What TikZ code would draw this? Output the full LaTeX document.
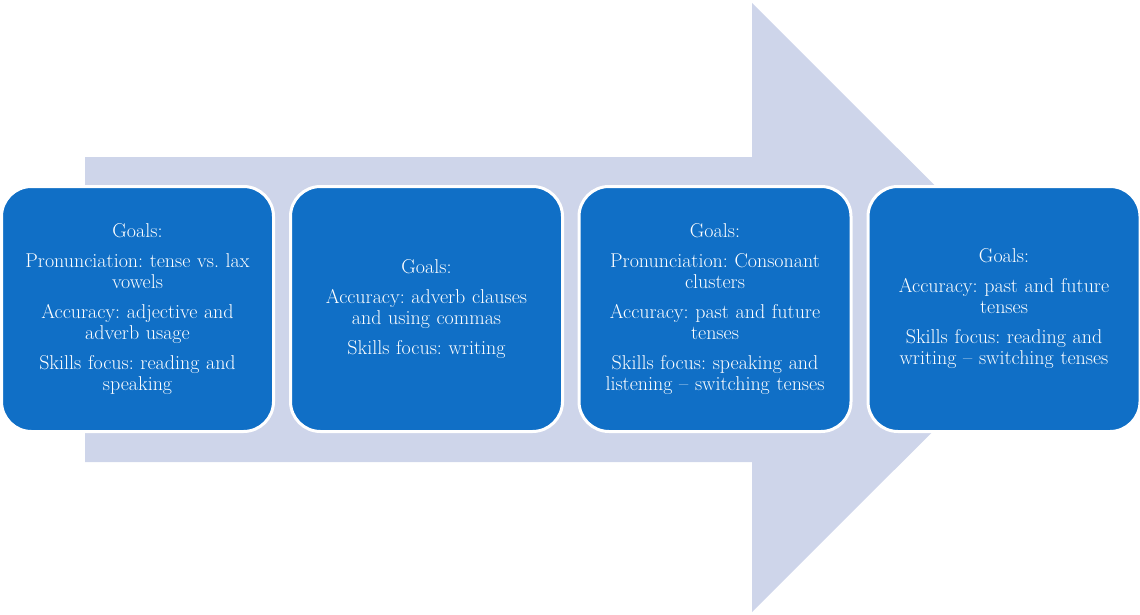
\documentclass[tikz,border=0pt]{standalone}
\usepackage{fontspec}
\frenchspacing
\definecolor{arrowfill}{RGB}{206,213,234}
\definecolor{boxblue}{RGB}{16,111,198}
\tikzset{
  stagebox/.style={draw=white, line width=3pt, fill=boxblue, rounded corners=30pt,
    text=white, align=center, text width=262pt, inner sep=5pt,
    minimum height=245pt, font=\fontsize{20}{21}\selectfont},
  arrowshape/.style={fill=arrowfill, draw=none}
}
\newcommand{\psep}{\\[9pt]}
\begin{document}
\begin{tikzpicture}[x=1pt,y=-1pt]
\useasboundingbox (0,0) rectangle (1140,615);
\fill[arrowshape] (85,157) -- (752,157) -- (752,3) -- (1057,307.5) -- (752,612) -- (752,462) -- (85,462) -- cycle;
\node[stagebox] (s1) at (137.5,309) {Goals:\psep Pronunciation: tense vs. lax\\ vowels\psep Accuracy: adjective and\\ adverb usage\psep Skills focus: reading and\\ speaking};
\node[stagebox] (s2) at (426.5,309) {Goals:\psep Accuracy: adverb clauses\\ and using commas\psep Skills focus: writing};
\node[stagebox] (s3) at (715,309) {Goals:\psep Pronunciation: Consonant\\ clusters\psep Accuracy: past and future\\ tenses\psep Skills focus: speaking and\\ listening -- switching tenses};
\node[stagebox] (s4) at (1004,309) {Goals:\psep Accuracy: past and future\\ tenses\psep Skills focus: reading and\\ writing -- switching tenses};
\end{tikzpicture}
\end{document}
